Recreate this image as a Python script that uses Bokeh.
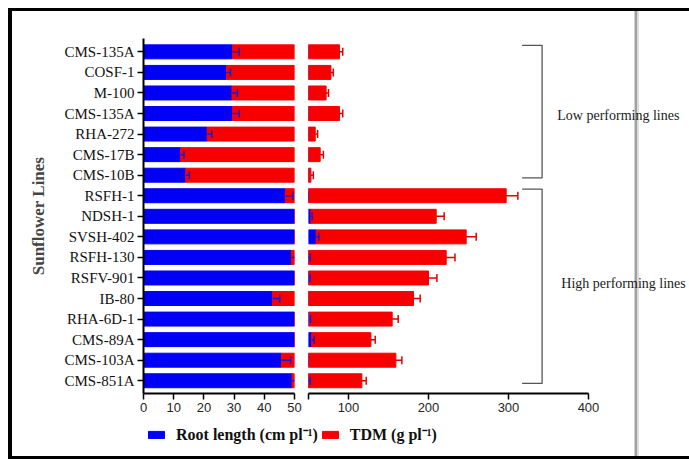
import numpy as np
from bokeh.plotting import figure
from bokeh.models import Range1d, FixedTicker, ColumnDataSource, Legend, LegendItem
from bokeh.layouts import row, column
from bokeh.embed import file_html
from bokeh.resources import INLINE
from bokeh.core.properties import value

# ---------------- data ----------------
lines = ["CMS-135A", "COSF-1", "M-100", "CMS-135A", "RHA-272", "CMS-17B", "CMS-10B",
         "RSFH-1", "NDSH-1", "SVSH-402", "RSFH-130", "RSFV-901", "IB-80", "RHA-6D-1",
         "CMS-89A", "CMS-103A", "CMS-851A"]
group = ["Low"] * 7 + ["High"] * 10
group_labels = {"Low": "Low performing lines", "High": "High performing lines"}

root_length = [29.5, 27.5, 29.3, 29.5, 21.1, 12.3, 14.0,
               47.0, 53.0, 59.6, 49.0, 50.5, 42.7, 51.0, 54.0, 45.7, 49.2]
root_err = [2.2, 1.3, 1.8, 2.2, 1.5, 1.1, 1.2,
            2.5, 1.7, 3.3, 3.0, 1.5, 2.4, 1.5, 3.0, 3.0, 3.0]
tdm = [59.3, 50.5, 42.7, 59.3, 37.3, 52.3, 39.0,
       250.1, 156.6, 187.5, 173.1, 149.5, 138.6, 103.6, 74.0, 113.5, 67.5]
tdm_err = [4.0, 3.0, 3.0, 4.0, 3.0, 4.0, 3.0,
           14.6, 10.0, 12.5, 11.0, 10.5, 8.3, 7.5, 5.4, 7.5, 5.4]

left_ticks = [0, 10, 20, 30, 40, 50]
right_ticks = [50, 100, 200, 300, 400]

# ---------------- styling ----------------
BLUE = "#0000f6"
RED = "#f80000"
BLUE_ERR = "#1a1ad0"
RED_ERR = "#e00000"
SERIF = "Liberation Serif"
SANS = "Liberation Sans"
BAR_H = 0.68

n = len(lines)
y = np.arange(n)
rl = np.array(root_length)
total = rl + np.array(tdm)
src = ColumnDataSource(dict(
    y=y, rl=rl, total=total,
    rl_hi=rl + np.array(root_err),
    tot_hi=total + np.array(tdm_err),
))

yr = Range1d(start=n - 1 + 0.62, end=-0.65)


def base_fig(**kw):
    p = figure(output_backend="svg", toolbar_location=None, y_range=yr,
               outline_line_color=None, border_fill_color=None,
               background_fill_color=None, title=None, **kw)
    p.xgrid.visible = False
    p.ygrid.visible = False
    return p


def draw_bars(p):
    p.hbar(y="y", left=0, right="rl", height=BAR_H, fill_color=BLUE,
           line_color=BLUE, source=src)
    p.hbar(y="y", left="rl", right="total", height=BAR_H, fill_color=RED,
           line_color=RED, source=src)
    p.segment(x0="rl", x1="rl_hi", y0="y", y1="y", line_color=BLUE_ERR,
              line_width=1.5, source=src)
    p.scatter(x="rl_hi", y="y", marker="dash", angle=np.pi / 2, size=8,
              line_color=BLUE_ERR, line_width=1.5, source=src)
    p.segment(x0="total", x1="tot_hi", y0="y", y1="y", line_color=RED_ERR,
              line_width=1.5, source=src)
    p.scatter(x="tot_hi", y="y", marker="dash", angle=np.pi / 2, size=8,
              line_color=RED_ERR, line_width=1.5, source=src)


def style_xaxis(p, ticks):
    ax = p.xaxis[0]
    ax.ticker = FixedTicker(ticks=ticks)
    ax.axis_line_color = "black"
    ax.axis_line_width = 2
    ax.major_tick_line_color = "black"
    ax.major_tick_line_width = 1.5
    ax.major_tick_out = 6
    ax.major_tick_in = 0
    ax.minor_tick_line_color = None
    ax.major_label_text_font = SANS
    ax.major_label_text_font_size = "13px"
    ax.major_label_text_color = "#262626"
    ax.major_label_standoff = 3


# ---------------- left panel (0-50) ----------------
p1 = base_fig(width=292, height=409, x_range=Range1d(0, 50),
              min_border_left=131, min_border_right=10,
              min_border_top=27, min_border_bottom=27)
draw_bars(p1)
style_xaxis(p1, left_ticks)
ya = p1.yaxis[0]
ya.ticker = FixedTicker(ticks=list(range(n)))
ya.major_label_overrides = {int(i): lines[i] for i in range(n)}
ya.axis_line_color = "black"
ya.axis_line_width = 2
ya.major_tick_line_color = "black"
ya.major_tick_line_width = 1.5
ya.major_tick_out = 6
ya.major_tick_in = 0
ya.minor_tick_line_color = None
ya.major_label_text_font = SERIF
ya.major_label_text_font_size = "15px"
ya.major_label_text_color = "#111111"
ya.major_label_standoff = 3
ya.axis_label = "Sunflower Lines"
ya.axis_label_text_font = SERIF
ya.axis_label_text_font_style = "bold"
ya.axis_label_text_font_size = "17px"
ya.axis_label_standoff = 13

# ---------------- right panel (50-400) ----------------
p2 = base_fig(width=385, height=409, x_range=Range1d(50, 526.25),
              min_border_left=4, min_border_right=0,
              min_border_top=27, min_border_bottom=27,
              y_axis_location=None)
draw_bars(p2)
style_xaxis(p2, right_ticks)
p2.xaxis[0].bounds = (50, 400)
p2.xaxis[0].major_label_overrides = {50: ""}

# group brackets and labels
idx = {g: [i for i, gg in enumerate(group) if gg == g] for g in ["Low", "High"]}
bx0, bx1 = 317, 342
xs, ys, tx, ty, tt = [], [], [], [], []
for g, tx_off in [("Low", 19), ("High", 24)]:
    top = min(idx[g]) - 0.32
    bot = max(idx[g]) + 0.13
    xs.append([bx0, bx1, bx1, bx0])
    ys.append([top, top, bot, bot])
    tx.append(bx1 + tx_off)
    ty.append((min(idx[g]) + max(idx[g])) / 2 - (0.25 if g == "High" else -0.1))
    tt.append(group_labels[g])
p2.multi_line(xs=xs, ys=ys, line_color="#555555", line_width=1.3)
p2.text(x=tx, y=ty, text=tt, text_font=value(SERIF), text_font_size="14px",
        text_baseline="middle", text_align="left", text_color="#1a1a1a")

# ---------------- legend strip ----------------
p3 = figure(width=677, height=36, output_backend="svg", toolbar_location=None,
            x_range=Range1d(0, 1), y_range=Range1d(0, 1),
            x_axis_location=None, y_axis_location=None, min_border=0,
            outline_line_color=None, border_fill_color=None,
            background_fill_color=None, title=None)
p3.xgrid.visible = False
p3.ygrid.visible = False
# legend proxies, placed outside the visible range of this strip
r1 = p3.hbar(y=[-5], right=[-4], left=-5, height=1, fill_color=BLUE, line_color=BLUE)
r2 = p3.hbar(y=[-5], right=[-4], left=-5, height=1, fill_color=RED, line_color=RED)
leg = Legend(items=[LegendItem(label="Root length (cm pl\u207b\u00b9)", renderers=[r1]),
                    LegendItem(label="TDM (g pl\u207b\u00b9)", renderers=[r2])],
             orientation="horizontal", location=(134, 11),
             glyph_width=20, glyph_height=9, label_standoff=10, spacing=2,
             padding=0, margin=0, border_line_alpha=0, background_fill_alpha=0,
             label_text_font=SERIF, label_text_font_style="bold",
             label_text_font_size="16px", label_text_color="#111111")
p3.add_layout(leg)

layout = column(
    row(p1, p2), p3,
    styles={
        "margin-left": "8px",
        "margin-top": "8px",
        "border-top": "3px solid black",
        "border-left": "4px solid black",
        "border-bottom": "3px solid black",
        "background": "linear-gradient(to right, #ffffff 622px, #d2d2d2 622px, "
                      "#d2d2d2 623px, #a0a0a0 623px, #a0a0a0 625px, #dcdcdc 625px, "
                      "#dcdcdc 627px, #ffffff 627px)",
    },
)

open("out.html", "w").write(file_html(layout, INLINE))
